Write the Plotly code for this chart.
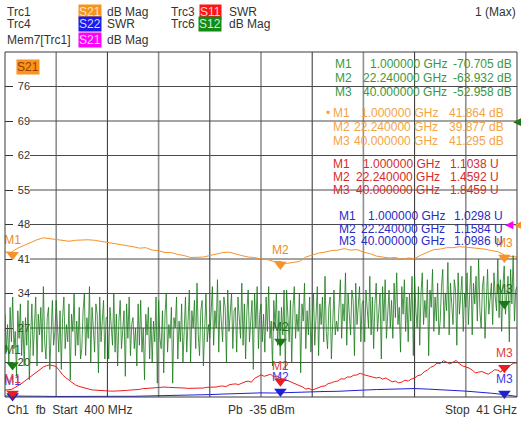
import numpy as np
import plotly.graph_objects as go

# ---------------- data ----------------
START_GHZ = 0.4
STOP_GHZ = 41.0
DIVISIONS = 10

# Trc1  S21 dB Mag (orange)
s21_db = [42.4, 42.4, 43.2, 43.8, 44.4, 44.9, 45.3, 45.1, 44.9, 44.7,
          44.6, 44.8, 44.9, 44.9, 44.8, 44.6, 44.4, 44.2, 44.0, 43.8,
          43.5, 43.2, 43.3, 42.8, 42.7, 42.3, 42.3, 41.9, 41.7, 41.3,
          41.3, 41.4, 41.7, 42.0, 42.3, 42.4, 42.0, 41.7, 41.4, 41.3,
          41.0, 40.9, 40.5, 40.5, 40.1, 40.3, 40.5, 41.4, 41.8, 42.2,
          42.4, 42.7, 42.8, 43.1, 42.8, 42.9, 42.4, 42.1, 41.6, 41.4,
          41.2, 41.3, 40.9, 41.2, 41.1, 41.8, 42.3, 42.9, 43.0, 43.3,
          43.3, 43.5, 43.4, 43.3, 43.2, 43.0, 42.7, 42.5, 41.8, 41.5,
          41.4]

# Trc3  S11 SWR (red)
s11_swr = [1.20, 1.21, 1.22, 1.27, 1.32, 1.38, 1.45, 1.52, 1.60, 1.67,
           1.74, 1.81, 1.87, 1.91, 1.93, 1.91, 1.88, 1.77, 1.64, 1.56,
           1.49, 1.42, 1.35, 1.31, 1.28, 1.25, 1.23, 1.21, 1.20, 1.19,
           1.19, 1.18, 1.17, 1.17, 1.17, 1.17, 1.17, 1.18, 1.19, 1.20,
           1.20, 1.21, 1.22, 1.24, 1.25, 1.26, 1.26, 1.28, 1.29, 1.30,
           1.29, 1.28, 1.28, 1.27, 1.26, 1.26, 1.26, 1.25, 1.25, 1.26,
           1.26, 1.25, 1.26, 1.28, 1.28, 1.27, 1.29, 1.31, 1.32, 1.30,
           1.35, 1.37, 1.38, 1.36, 1.41, 1.44, 1.46, 1.43, 1.54, 1.58,
           1.64, 1.60, 1.62, 1.66, 1.58, 1.61, 1.55, 1.50, 1.49, 1.45,
           1.41, 1.38, 1.32, 1.29, 1.23, 1.25, 1.20, 1.24, 1.26, 1.31,
           1.32, 1.39, 1.41, 1.45, 1.46, 1.53, 1.52, 1.58, 1.58, 1.63,
           1.64, 1.69, 1.65, 1.62, 1.61, 1.58, 1.55, 1.57, 1.52, 1.55,
           1.49, 1.44, 1.46, 1.41, 1.43, 1.49, 1.46, 1.52, 1.55, 1.62,
           1.64, 1.73, 1.78, 1.86, 1.90, 1.98, 1.97, 2.05, 2.01, 1.96,
           2.01, 2.06, 1.96, 1.90, 1.87, 1.84, 1.78, 1.70, 1.72, 1.74,
           1.70, 1.66, 1.72, 1.79, 1.78, 1.72, 1.87, 1.82, 1.93, 1.98,
           1.99]

# Trc4  S22 SWR (blue)
s22_swr = [1.03, 1.02, 1.015, 1.02, 1.015, 1.02, 1.015, 1.02, 1.015, 1.02,
           1.02, 1.025, 1.03, 1.045, 1.06, 1.055, 1.07, 1.085, 1.10, 1.11,
           1.12, 1.115, 1.13, 1.125, 1.145, 1.16, 1.165, 1.19, 1.20, 1.215,
           1.23, 1.25, 1.245, 1.23, 1.20, 1.19, 1.17, 1.145, 1.11, 1.07,
           1.015]

# Trc6  S12 dB Mag (green)
s12_db = [-56, -67, -59, -70, -54, -64, -51, -66, -61, -74, -55, -63, -53, -68, -58, -71, -57, -65, -52, -75,
          -63, -53, -68, -59, -51, -71, -56, -62, -54, -67, -48, -64, -69, -57, -54, -72, -59, -52, -65, -61,
          -52, -62, -67, -55, -72, -57, -51, -66, -59, -64, -53, -75, -56, -61, -50, -68, -58, -65, -54, -69,
          -66, -55, -50, -68, -57, -63, -48, -70, -54, -60, -67, -53, -56, -73, -51, -64, -58, -52, -69, -57,
          -57, -69, -54, -61, -65, -50, -67, -56, -71, -58, -52, -66, -60, -55, -74, -53, -63, -51, -68, -59,
          -57, -66, -60, -71, -53, -65, -52, -67, -60, -75, -56, -62, -54, -69, -57, -70, -58, -64, -51, -76,
          -52, -63, -66, -55, -73, -56, -50, -67, -59, -63, -54, -76, -57, -60, -51, -69, -58, -64, -53, -70,
          -61, -51, -67, -57, -49, -70, -55, -60, -52, -66, -47, -62, -68, -55, -52, -71, -57, -50, -64, -59,
          -63, -53, -48, -65, -55, -60, -46, -67, -52, -58, -64, -51, -54, -70, -49, -61, -56, -50, -66, -55,
          -54, -67, -51, -58, -63, -47, -65, -53, -69, -55, -49, -64, -57, -52, -72, -50, -60, -48, -66, -56,
          -53, -64, -56, -67, -51, -61, -48, -63, -58, -71, -52, -60, -50, -65, -55, -68, -54, -62, -49, -72,
          -49, -59, -64, -52, -70, -54, -48, -63, -56, -61, -50, -73, -53, -58, -47, -66, -55, -62, -51, -67,
          -60, -50, -65, -56, -48, -68, -53, -59, -51, -64, -45, -61, -66, -54, -51, -69, -56, -49, -62, -58,
          -61, -51, -46, -63, -53, -58, -44, -65, -50, -56, -62, -49, -52, -68, -47, -59, -54, -48, -64, -53,
          -52, -64, -49, -56, -60, -45, -62, -51, -66, -53, -47, -61, -55, -50, -69, -48, -58, -46, -63, -54,
          -49, -60, -52, -63, -47, -57, -44, -59, -54, -67, -48, -56, -46, -61, -51, -64, -50, -58, -45, -68,
          -45, -55, -60, -48, -65, -50, -44, -59, -52, -57, -46, -68, -49, -54, -43, -61, -51, -58, -47, -62,
          -58, -48, -43, -60, -50, -55, -41, -62, -47, -53, -59, -46, -49, -65, -44, -56, -51, -45, -61, -50,
          -54, -44, -59, -50, -42, -62, -47, -53, -45, -58, -40, -55, -60, -48, -45, -63, -50, -43, -56, -52,
          -47, -59, -44, -51, -55, -40, -57, -46, -61, -48, -42, -56, -50, -45, -64, -43, -53, -39, -58, -49,
          -48]

marker_names = ["M1", "M2", "M3"]
marker_ghz = [1.0, 22.24, 40.0]
s12_marker_db = [-70.705, -63.932, -52.958]
s21_marker_db = [41.864, 39.877, 41.295]
s11_marker_swr = [1.1038, 1.4592, 1.8459]
s22_marker_swr = [1.0298, 1.1584, 1.0986]

s21_range = [13, 83]       # 7 dB/div
swr_range = [1, 11]        # 1 U/div
s12_range = [-80, 20]      # 10 dB/div
s21_ticks = [20, 27, 34, 41, 48, 55, 62, 69, 76]
s21_ref = 48
s12_ref = 0

# ---------------- styling ----------------
ORANGE = "#f5922a"
RED = "#ee1c1c"
BLUE = "#1f1fd8"
GREEN = "#1a7a1a"
MAGENTA = "#ff00ff"
FONT = "Liberation Sans, Arial, sans-serif"
GLYPH = "DejaVu Sans"
W, H = 521, 422
PL, PR, PT, PB = 5, 517, 52, 397


def px(x):
    return (x - PL) / (PR - PL)


def py(y):
    return (PB - y) / (PB - PT)


def freqs(values):
    return np.linspace(START_GHZ, STOP_GHZ, len(values))


fig = go.Figure()

fig.add_trace(go.Scatter(x=freqs(s21_db), y=s21_db, yaxis="y", mode="lines",
                         line=dict(color=ORANGE, width=1), hoverinfo="skip"))
fig.add_trace(go.Scatter(x=freqs(s22_swr), y=s22_swr, yaxis="y2", mode="lines",
                         line=dict(color=BLUE, width=1), hoverinfo="skip"))
fig.add_trace(go.Scatter(x=freqs(s11_swr), y=s11_swr, yaxis="y2", mode="lines",
                         line=dict(color=RED, width=1), hoverinfo="skip"))
fig.add_trace(go.Scatter(x=freqs(s12_db), y=s12_db, yaxis="y3", mode="lines",
                         line=dict(color=GREEN, width=0.8), hoverinfo="skip"))


def marker_trace(yvals, axis, color, label_color):
    return go.Scatter(x=marker_ghz, y=yvals, yaxis=axis, mode="markers+text",
                      text=marker_names, textposition="top center",
                      textfont=dict(family=FONT, size=12, color=label_color),
                      marker=dict(symbol="triangle-down", size=11, color=color),
                      cliponaxis=False, hoverinfo="skip")


fig.add_trace(marker_trace(s21_marker_db, "y", ORANGE, "#f08a1c"))
fig.add_trace(marker_trace(s22_marker_swr, "y2", BLUE, "#3a3ae6"))
fig.add_trace(marker_trace(s11_marker_swr, "y2", RED, "#e23a3a"))
fig.add_trace(marker_trace(s12_marker_db, "y3", GREEN, "#1f6f1f"))

shapes = []
step = (STOP_GHZ - START_GHZ) / DIVISIONS
for i in range(1, DIVISIONS):
    xg = START_GHZ + i * step
    odd = i % 2 == 1
    shapes.append(dict(type="line", xref="x", yref="paper", x0=xg, x1=xg, y0=0, y1=1,
                       line=dict(color="#8f8f8f" if odd else "#2e2e2e",
                                 width=1.6 if odd else 1), layer="below"))
for t in s21_ticks:
    shapes.append(dict(type="line", xref="paper", yref="y", x0=px(30), x1=1, y0=t, y1=t,
                       line=dict(color="#4a4a4a", width=1), layer="below"))
shapes.append(dict(type="rect", xref="paper", yref="paper", x0=0, x1=1, y0=0, y1=1,
                   line=dict(color="#3a3a3a", width=1), layer="above"))

ann = []


def text(t, x, y, color="#333333", xanchor="left", size=12, bg=None, family=FONT):
    d = dict(text=t, x=px(x), y=py(y), xref="paper", yref="paper", xanchor=xanchor,
             yanchor="middle", showarrow=False, borderpad=0,
             font=dict(family=family, size=size, color=color))
    if bg:
        d.update(bgcolor=bg)
    ann.append(d)


# header
text("Trc1", 6, 11.5)
text("S21", 90, 11.5, "#ffe2c4", "center", bg="#f7941d")
text("dB Mag", 106, 11.5)
text("Trc3", 170, 11.5)
text("S11", 210, 11.5, "#ffd6d6", "center", bg="#ff1414")
text("SWR", 228, 11.5)
text("Trc4", 6, 23.5)
text("S22", 90, 23.5, "#d8d8ff", "center", bg="#1a1af0")
text("SWR", 106, 23.5)
text("Trc6", 170, 23.5)
text("S12", 210, 23.5, "#d6f0d6", "center", bg="#138a13")
text("dB Mag", 228, 23.5)
text("Mem7[Trc1]", 6, 40.5)
text("S21", 90, 40.5, "#ffd8ff", "center", bg=MAGENTA)
text("dB Mag", 106, 40.5)
text("1 (Max)", 517, 11.5, xanchor="right")

# trace label inside the diagram
text("S21", 27.5, 66.5, "#9a3c00", "center", bg="#f7941d")

# marker readouts
freq_text = [f"{f:.6f} GHz" for f in marker_ghz]
blocks = [
    (s12_marker_db, " dB", 3, "#3a983a", [64, 78, 92], 334, 448, 513),
    (s21_marker_db, " dB", 3, "#f3a447", [113, 127, 141], 332, 439, 505),
    (s11_marker_swr, " U", 4, "#d42c2c", [164, 177, 190], 332, 441, 500),
    (s22_marker_swr, " U", 4, "#2a2ac8", [216, 228.5, 241], 338, 446, 504),
]
for vals, unit, dec, col, ys, xn, xf, xv in blocks:
    for k in range(3):
        text(marker_names[k], xn, ys[k], col)
        text(freq_text[k], xf, ys[k], col, "right")
        text(f"{vals[k]:.{dec}f}{unit}", xv, ys[k], col, "right")
text("\u2022", 325, 113, "#f3a447")

# reference level arrows on the right edge
ann.append(dict(text="\u25c0", x=1, y=s12_ref, xref="paper", yref="y3", xanchor="center",
                yanchor="middle", xshift=0, showarrow=False,
                font=dict(family=GLYPH, size=11, color=GREEN)))
ann.append(dict(text="\u25c0", x=1, y=s21_ref, xref="paper", yref="y", xanchor="center",
                yanchor="middle", xshift=-8, showarrow=False,
                font=dict(family=GLYPH, size=11, color=MAGENTA)))
ann.append(dict(text="\u25c0", x=1, y=s21_ref, xref="paper", yref="y", xanchor="center",
                yanchor="middle", xshift=1, showarrow=False,
                font=dict(family=GLYPH, size=11, color=ORANGE)))

# footer
text("Ch1\u00a0 fb\u00a0 Start\u00a0 400 MHz", 6, 410)
text("Pb\u00a0 -35 dBm", 227, 410)
text("Stop\u00a0 41 GHz", 518, 410, xanchor="right")

fig.update_layout(
    width=W, height=H,
    margin=dict(l=PL, r=W - PR, t=PT, b=H - PB, pad=0),
    paper_bgcolor="white", plot_bgcolor="white",
    showlegend=False,
    font=dict(family=FONT, size=12, color="#333333"),
    xaxis=dict(range=[START_GHZ, STOP_GHZ], showgrid=False, zeroline=False,
               showticklabels=False, ticks="", showline=False, fixedrange=True),
    yaxis=dict(range=s21_range, tickvals=s21_ticks, ticktext=[str(t) for t in s21_ticks],
               ticklabelposition="inside", ticks="inside", ticklen=8, tickwidth=1,
               ticklabelstandoff=4,
               tickcolor="#333333", showgrid=False, zeroline=False, showline=False,
               layer="below traces", tickfont=dict(family=FONT, size=11, color="#333333"),
               fixedrange=True),
    yaxis2=dict(range=swr_range, overlaying="y", visible=False, fixedrange=True),
    yaxis3=dict(range=s12_range, overlaying="y", visible=False, fixedrange=True),
    shapes=shapes,
    annotations=ann,
)

fig.write_html("out.html", config={"displayModeBar": False},
               post_script="document.body.style.margin='0';document.body.style.padding='0';")
